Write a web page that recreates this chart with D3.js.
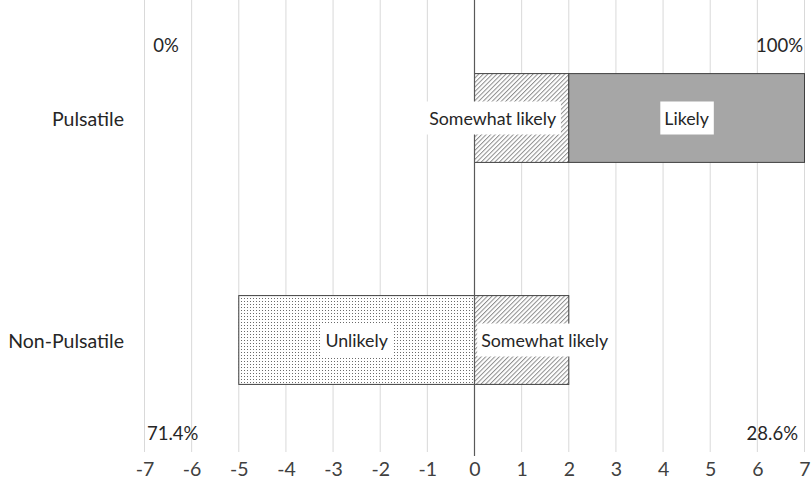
<!DOCTYPE html>
<html><head><meta charset="utf-8">
<script src="https://cdn.jsdelivr.net/npm/d3@7"></script>
<style>body{margin:0;background:#fff}svg{display:block}text{font-family:Lato,"Open Sans","Liberation Sans",sans-serif}</style>
</head><body><svg id="c" width="811" height="493"></svg>
<script>
const categories = ["Pulsatile", "Non-Pulsatile"];
const unlikely = [0, -5];
const somewhatLikely = [2, 2];
const likely = [5, 0];
const xTicks = [-7,-6,-5,-4,-3,-2,-1,0,1,2,3,4,5,6,7];
const topPct = ["0%", "100%"];
const bottomPct = ["71.4%", "28.6%"];

const svg = d3.select("#c");
const x = d3.scaleLinear().domain([-7, 7]).range([144.5, 804.5]);
const y = d3.scaleBand().domain(categories).range([7, 451]).paddingInner(0.6).paddingOuter(0.3);

const defs = svg.append("defs");
const hatch = defs.append("pattern").attr("id","hatch").attr("patternUnits","userSpaceOnUse")
  .attr("width",3.2).attr("height",3.2).attr("patternTransform","rotate(45)");
hatch.append("rect").attr("width",3.2).attr("height",3.2).attr("fill","#fff");
hatch.append("line").attr("x1",0.5).attr("y1",0).attr("x2",0.5).attr("y2",3.2).attr("stroke","#8c8c8c").attr("stroke-width",1);
const dots = defs.append("pattern").attr("id","dots").attr("patternUnits","userSpaceOnUse")
  .attr("width",3).attr("height",3);
dots.append("rect").attr("width",3).attr("height",3).attr("fill","#fff");
dots.append("rect").attr("x",1).attr("y",1).attr("width",1).attr("height",1).attr("fill","#6a6a6a");

// gridlines
svg.append("g").selectAll("line").data(xTicks.filter(d=>d!==0)).join("line")
  .attr("x1",d=>x(d)).attr("x2",d=>x(d)).attr("y1",0).attr("y2",452)
  .attr("stroke","#d9d9d9").attr("stroke-width",1);

// axis tick labels
const ax = svg.append("g").attr("transform","translate(0,452)")
  .call(d3.axisBottom(x).tickValues(xTicks).tickSize(0).tickPadding(10).tickFormat(d => String(d)));
ax.select(".domain").remove();
ax.selectAll("text").attr("font-size",19.5).attr("fill","#404040")
  .style("font-family",'Lato,"Open Sans","Liberation Sans",sans-serif');

// segments
const segs = [];
categories.forEach((c,i)=>{
  if (unlikely[i]) segs.push({c, x0: unlikely[i], x1: 0, fill:"url(#dots)", label:"Unlikely", dx:0});
  if (somewhatLikely[i]) segs.push({c, x0: 0, x1: somewhatLikely[i], fill:"url(#hatch)", label:"Somewhat likely", dx: i===0 ? -29 : 23});
  if (likely[i]) segs.push({c, x0: somewhatLikely[i], x1: somewhatLikely[i]+likely[i], fill:"#a6a6a6", label:"Likely", dx:0});
});
svg.append("g").selectAll("rect").data(segs).join("rect")
  .attr("x",d=>x(Math.min(d.x0,d.x1))).attr("width",d=>Math.abs(x(d.x1)-x(d.x0)))
  .attr("y",d=>y(d.c)).attr("height",y.bandwidth())
  .attr("fill",d=>d.fill).attr("stroke","#404040").attr("stroke-width",1);

// zero line
svg.append("line").attr("x1",x(0)).attr("x2",x(0)).attr("y1",0).attr("y2",456)
  .attr("stroke","#595959").attr("stroke-width",1.2);

// data labels with white boxes
const lg = svg.append("g").selectAll("g").data(segs).join("g");
lg.each(function(d){
  const g = d3.select(this);
  const cx = (x(d.x0)+x(d.x1))/2 + d.dx;
  const cy = y(d.c) + y.bandwidth()/2;
  const t = g.append("text").attr("x",cx).attr("y",cy).attr("text-anchor","middle")
    .attr("dominant-baseline","central").attr("font-size",17.8).attr("fill","#262626").text(d.label);
  const b = t.node().getBBox();
  g.insert("rect","text").attr("x",b.x-4).attr("y",cy-16.5).attr("width",b.width+8).attr("height",33).attr("fill","#fff");
});

// category labels
svg.append("g").selectAll("text").data(categories).join("text")
  .attr("x",124).attr("y",d=>y(d)+y.bandwidth()/2).attr("text-anchor","end")
  .attr("dominant-baseline","central").attr("font-size",19.5).attr("fill","#262626").text(d=>d);

// percent labels
svg.append("text").attr("x",166).attr("y",45).attr("text-anchor","middle").attr("dominant-baseline","central")
  .attr("font-size",18.5).attr("fill","#262626").text(topPct[0]);
svg.append("text").attr("x",803).attr("y",45).attr("text-anchor","end").attr("dominant-baseline","central")
  .attr("font-size",18.5).attr("fill","#262626").text(topPct[1]);
svg.append("text").attr("x",147).attr("y",433).attr("text-anchor","start").attr("dominant-baseline","central")
  .attr("font-size",18.5).attr("fill","#262626").text(bottomPct[0]);
svg.append("text").attr("x",798).attr("y",433).attr("text-anchor","end").attr("dominant-baseline","central")
  .attr("font-size",18.5).attr("fill","#262626").text(bottomPct[1]);
</script></body></html>
